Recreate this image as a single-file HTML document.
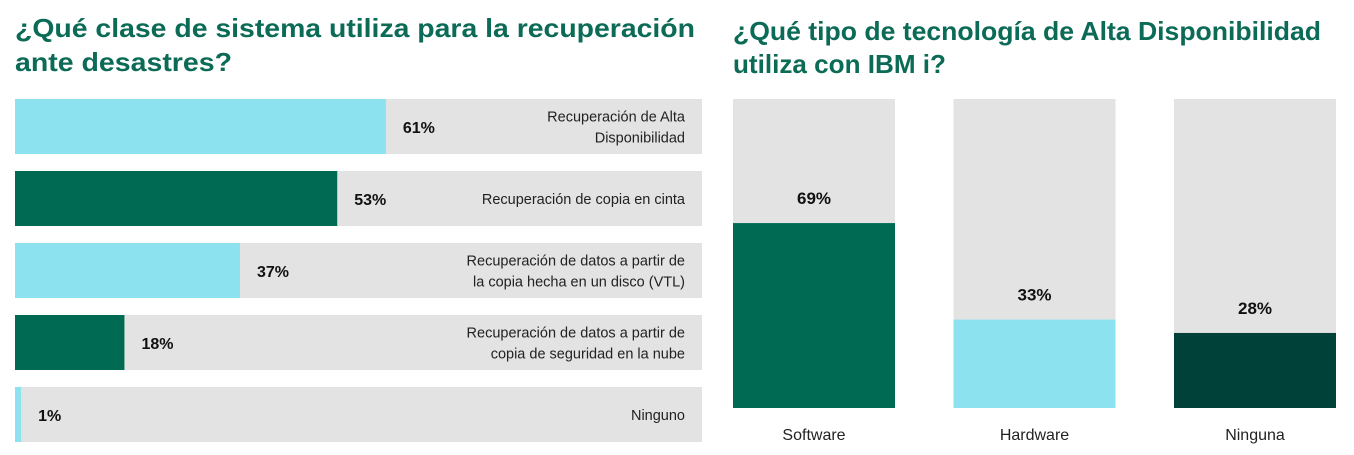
<!DOCTYPE html>
<html><head><meta charset="utf-8"><style>
body{margin:0;background:#fff;}
svg{display:block;font-family:"Liberation Sans",sans-serif;}
</style></head><body>
<svg id="c" width="1354" height="455">
<text x="15" y="37" font-size="26" font-weight="bold" fill="#0b6b56" textLength="680" lengthAdjust="spacingAndGlyphs">¿Qué clase de sistema utiliza para la recuperación</text>
<text x="15" y="71" font-size="26" font-weight="bold" fill="#0b6b56" textLength="217" lengthAdjust="spacingAndGlyphs">ante desastres?</text>
<text x="733" y="40" font-size="26" font-weight="bold" fill="#0b6b56" textLength="588" lengthAdjust="spacingAndGlyphs">¿Qué tipo de tecnología de Alta Disponibilidad</text>
<text x="733" y="73" font-size="26" font-weight="bold" fill="#0b6b56" textLength="213" lengthAdjust="spacingAndGlyphs">utiliza con IBM i?</text>
<g id="left"></g><g id="right"></g>
</svg>
<script>
const leftCats=[["Recuperación de Alta","Disponibilidad"],["Recuperación de copia en cinta"],["Recuperación de datos a partir de","la copia hecha en un disco (VTL)"],["Recuperación de datos a partir de","copia de seguridad en la nube"],["Ninguno"]];
const leftVals=[61,53,37,18,1];
const leftColors=["#8ce3ef","#006a52","#8ce3ef","#006a52","#8ce3ef"];
const rightCats=["Software","Hardware","Ninguna"];
const rightVals=[69,33,28];
const rightColors=["#006a52","#8ce3ef","#004239"];
const NS="http://www.w3.org/2000/svg";
function mk(p,t,a){const e=document.createElementNS(NS,t);for(const k in a)e.setAttribute(k,a[k]);p.appendChild(e);return e;}
const L=document.getElementById('left');
const lx=v=>15+v*6.08;
leftVals.forEach((v,i)=>{
 const y=99+i*72;
 const bg=mk(L,'rect',{x:15,y:y,width:687,height:55,fill:"#e3e3e3"});
 
 
 const b=mk(L,'rect',{x:15,y:y,width:lx(v)-15,height:55,fill:leftColors[i]});
 
 
 const t=mk(L,'text',{x:lx(v)+17,y:y+34,"font-size":16,"font-weight":"bold",fill:"#111"});
 t.textContent=v+"%";
 
 
 const lines=leftCats[i];
 lines.forEach((s,j)=>{
  const ty=y+28+5+(j-(lines.length-1)/2)*21;
  const c=mk(L,'text',{x:685,y:ty,"font-size":14.5,fill:"#222","text-anchor":"end"});
  c.textContent=s;
  
  
 });
});
const R=document.getElementById('right');
const base=408, ry=v=>base-v*2.68;
rightVals.forEach((v,i)=>{
 const x=733+i*220.5;
 const bg=mk(R,'rect',{x:x,y:99,width:162,height:309,fill:"#e3e3e3"});
 
 
 const b=mk(R,'rect',{x:x,y:ry(v),width:162,height:base-ry(v),fill:rightColors[i]});
 
 
 const t=mk(R,'text',{x:x+81,y:ry(v)-19,"font-size":17,"font-weight":"bold",fill:"#111","text-anchor":"middle"});
 t.textContent=v+"%";
 
 
 const c=mk(R,'text',{x:x+81,y:440,"font-size":16,fill:"#222","text-anchor":"middle"});
 c.textContent=rightCats[i];
 
 
});
</script>
</body></html>
